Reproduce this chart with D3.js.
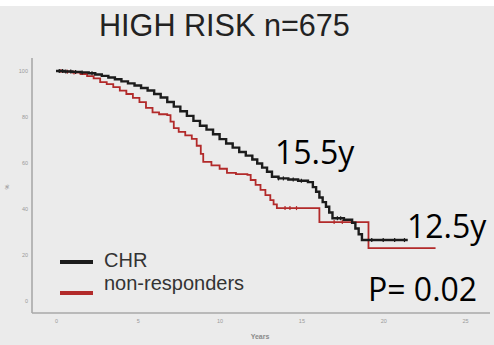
<!DOCTYPE html>
<html>
<head>
<meta charset="utf-8">
<script src="https://cdn.jsdelivr.net/npm/d3@7"></script>
<style>
  html, body { margin: 0; padding: 0; background: #fff; }
  svg { display: block; }
</style>
</head>
<body>
<svg id="chart" width="494" height="345"></svg>
<script>
// Kaplan–Meier step curves (years, % surviving)
const chrTimes = [0, 0.5, 1.0, 1.5, 2.0, 2.4, 2.8, 3.2, 3.6, 4.0, 4.4, 4.8, 5.2, 5.6, 6.0, 6.4, 6.8, 7.2, 7.6, 8.0, 8.4, 8.8, 9.2, 9.6, 10.0, 10.4, 10.8, 11.2, 11.6, 12.0, 12.3, 12.6, 12.9, 13.2, 13.6, 14.2, 14.8, 15.4, 15.7, 15.9, 16.1, 16.3, 16.5, 16.7, 16.9, 17.6, 18.1, 18.3, 18.5, 18.7, 21.5];
const chrSurv  = [100, 99.8, 99.6, 99.4, 99.0, 98.5, 97.9, 97.2, 96.4, 95.5, 94.6, 93.7, 92.6, 91.5, 90.0, 88.5, 86.5, 84.5, 82.5, 80.5, 78.3, 76.2, 74.5, 72.5, 70.4, 68.5, 66.7, 64.8, 63.2, 61.5, 59.8, 58.0, 56.2, 54.0, 53.3, 52.8, 52.3, 51.7, 49.5, 47.5, 45.0, 43.0, 41.0, 38.5, 36.0, 35.3, 34.0, 31.5, 29.0, 26.5, 26.5];

const nrTimes = [0, 0.5, 1.0, 1.5, 1.9, 2.3, 2.7, 3.1, 3.5, 3.9, 4.3, 4.7, 5.1, 5.5, 5.9, 6.3, 6.8, 7.0, 7.2, 7.5, 7.9, 8.3, 8.6, 8.85, 9.0, 9.5, 10.0, 10.45, 11.0, 11.7, 11.9, 12.2, 12.5, 12.8, 13.1, 13.3, 13.5, 16.1, 19.1, 23.2];
const nrSurv  = [100, 99.7, 99.3, 98.7, 97.8, 96.8, 95.2, 94.3, 93.0, 91.5, 90.0, 88.3, 86.5, 84.0, 82.0, 81.2, 80.8, 78.0, 75.2, 73.5, 72.0, 70.5, 67.5, 64.0, 60.5, 59.0, 57.5, 55.7, 55.2, 54.8, 52.6, 50.5, 48.3, 46.0, 43.9, 42.0, 40.4, 34.3, 23.0, 23.0];

// censored observations (years)
const chrCensor = [0.2, 0.4, 0.6, 0.9, 1.2, 1.6, 2.2, 13.6, 13.9, 14.5, 15.0, 17.2, 17.4, 19.3, 20.0, 20.7, 21.3];
const nrCensor  = [0.3, 0.7, 1.1, 14.0, 14.3, 14.7, 17.0, 17.5];

const xTicks = [0, 5, 10, 15, 20, 25];
const yTicks = [0, 20, 40, 60, 80, 100];

const seriesNames = ["CHR", "non-responders"];
const seriesColors = ["#1c1c1c", "#b22a2a"];

const titleText = "HIGH RISK n=675";
const medianLabels = ["15.5y", "12.5y"];
const pLabel = "P= 0.02";

const svg = d3.select("#chart");
const W = 494, H = 345;

// soft edge for the plotted lines (user-space region so flat lines still render)
const defs = svg.append("defs");
defs.append("filter").attr("id", "soft").attr("filterUnits", "userSpaceOnUse")
  .attr("x", 0).attr("y", 0).attr("width", W).attr("height", H)
  .append("feGaussianBlur").attr("stdDeviation", 0.45);

// background panel
svg.append("rect").attr("x", 0).attr("y", 0).attr("width", W).attr("height", H).attr("fill", "#fff");
svg.append("rect").attr("x", 0).attr("y", 6).attr("width", W).attr("height", H - 6).attr("fill", "#ebebeb");

const x = d3.scaleLinear().domain([0, 25]).range([56, 465]);
const y = d3.scaleLinear().domain([0, 100]).range([301, 71]);

const axisColor = "#a9a9a9";
const tickColor = "#9a9a9a";

// axis lines
svg.append("line").attr("x1", 32).attr("x2", 32).attr("y1", 58).attr("y2", 313)
  .attr("stroke", axisColor).attr("stroke-width", 1.6);
svg.append("line").attr("x1", 32).attr("x2", 490).attr("y1", 313).attr("y2", 313)
  .attr("stroke", axisColor).attr("stroke-width", 1.6);

const yAxis = svg.append("g").attr("transform", "translate(32,0)")
  .call(d3.axisLeft(y).tickValues(yTicks).tickSize(0).tickPadding(4));
const xAxis = svg.append("g").attr("transform", "translate(0,313)")
  .call(d3.axisBottom(x).tickValues(xTicks).tickSize(0).tickPadding(6));
[yAxis, xAxis].forEach(g => {
  g.select(".domain").remove();
  g.selectAll("text").attr("fill", tickColor)
    .attr("font-family", "Liberation Sans, Arial, sans-serif").attr("font-size", 5.5);
});

svg.append("text").attr("x", 260).attr("y", 339).attr("text-anchor", "middle")
  .attr("font-family", "Liberation Sans, Arial, sans-serif").attr("font-size", 7)
  .attr("font-weight", "bold").attr("fill", "#8a8a8a").text("Years");
svg.append("text").attr("transform", "translate(9,187) rotate(-90)").attr("text-anchor", "middle")
  .attr("font-family", "Liberation Sans, Arial, sans-serif").attr("font-size", 5.5)
  .attr("fill", "#8a8a8a").text("%");

// survival curves
const line = d3.line().x(d => x(d[0])).y(d => y(d[1])).curve(d3.curveStepAfter);
const series = [
  { times: chrTimes, surv: chrSurv, censor: chrCensor, color: seriesColors[0], width: 2.4 },
  { times: nrTimes, surv: nrSurv, censor: nrCensor, color: seriesColors[1], width: 1.8 }
];

function survAt(s, t) {
  let v = s.surv[0];
  for (let i = 0; i < s.times.length; i++) { if (s.times[i] <= t) v = s.surv[i]; }
  return v;
}

const curves = svg.append("g").attr("filter", "url(#soft)");
// red series first so the black one sits on top
[series[1], series[0]].forEach(s => {
  curves.append("path")
    .datum(s.times.map((t, i) => [t, s.surv[i]]))
    .attr("fill", "none").attr("stroke", s.color).attr("stroke-width", s.width)
    .attr("stroke-linejoin", "miter").attr("d", line);
  curves.append("g").selectAll("line").data(s.censor).join("line")
    .attr("x1", d => x(d)).attr("x2", d => x(d))
    .attr("y1", d => y(survAt(s, d)) - 2).attr("y2", d => y(survAt(s, d)) + 2)
    .attr("stroke", s.color).attr("stroke-width", 1.2);
});

// title
svg.append("text").attr("x", 99).attr("y", 36)
  .attr("font-family", "Liberation Sans, Arial, sans-serif").attr("font-size", 30.6)
  .attr("fill", "#222").text(titleText);

// legend
const legend = svg.append("g");
const legendKeys = legend.append("g").attr("filter", "url(#soft)");
seriesNames.forEach((name, i) => {
  const ly = [262, 293][i];
  legendKeys.append("line").attr("x1", 60).attr("x2", 93).attr("y1", ly).attr("y2", ly)
    .attr("stroke", seriesColors[i]).attr("stroke-width", 4);
  legend.append("text").attr("x", 104).attr("y", [267, 290][i])
    .attr("font-family", "Liberation Sans, Arial, sans-serif").attr("font-size", 20)
    .attr("fill", "#333").text(name);
});

// annotations
const annoFont = "Open Sans, Liberation Sans, sans-serif";
svg.append("text").attr("x", 275).attr("y", 164).attr("font-family", annoFont)
  .attr("font-size", 32).attr("fill", "#000").text(medianLabels[0]);
svg.append("text").attr("x", 407).attr("y", 238).attr("font-family", annoFont)
  .attr("font-size", 32).attr("fill", "#000").text(medianLabels[1]);
svg.append("text").attr("x", 368).attr("y", 301).attr("font-family", annoFont)
  .attr("font-size", 32).attr("fill", "#000").text(pLabel);
</script>
</body>
</html>
